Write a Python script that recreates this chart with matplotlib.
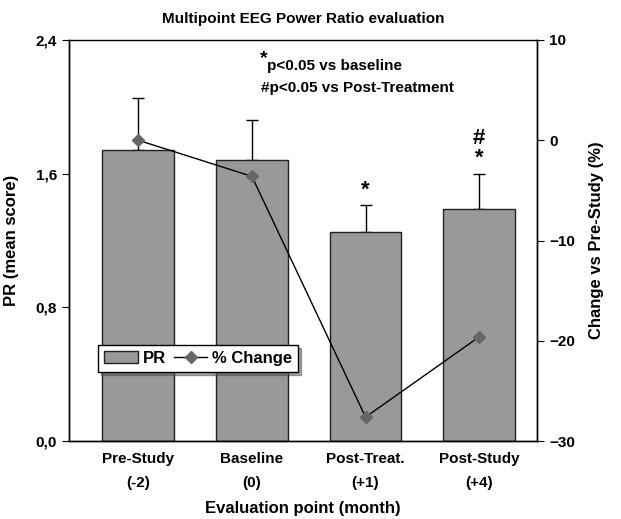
import matplotlib.pyplot as plt

plt.rcParams['font.family'] = ['Liberation Sans', 'DejaVu Sans']
plt.rcParams['font.weight'] = 'bold'
plt.rcParams['axes.labelweight'] = 'bold'
plt.rcParams['axes.titleweight'] = 'bold'

categories = ['Pre-Study\n(-2)', 'Baseline\n(0)', 'Post-Treat.\n(+1)', 'Post-Study\n(+4)']
pr_mean = [1.74, 1.68, 1.25, 1.39]
pr_err = [0.31, 0.24, 0.16, 0.21]
pct_change = [0.0, -3.6, -27.6, -19.6]
pr_ticks = [0.0, 0.8, 1.6, 2.4]
pr_ticklabels = ['0,0', '0,8', '1,6', '2,4']
pct_ticks = [10, 0, -10, -20, -30]
marks = ['', '', '*', '#\n*']

x = list(range(len(categories)))

fig = plt.figure(figsize=(6.21, 5.19), dpi=100)
ax = fig.add_axes([0.111, 0.150, 0.754, 0.773])

bars = ax.bar(x, pr_mean, width=0.63, color='#999999', edgecolor='#222222',
              linewidth=1.0, label='PR', zorder=2)
ax.errorbar(x, pr_mean, yerr=[[0] * len(x), pr_err], fmt='none', ecolor='black',
            elinewidth=1.0, capsize=4, capthick=1.0, zorder=1)
ax.set_xlim(-0.61, 3.51)
ax.set_ylim(0, 2.4)
ax.set_yticks(pr_ticks)
ax.set_yticklabels(pr_ticklabels)
ax.set_xticks(x)
ax.set_xticklabels(categories, fontsize=11, linespacing=1.9)
ax.tick_params(axis='x', length=0, pad=8)
ax.tick_params(axis='y', labelsize=11, length=5)
ax.set_ylabel('PR (mean score)', fontsize=12, labelpad=12)
ax.set_xlabel('Evaluation point (month)', fontsize=12, labelpad=8)
ax.set_title('Multipoint EEG Power Ratio evaluation', fontsize=11, pad=12)

for i, m in enumerate(marks):
    if m:
        ax.text(i, pr_mean[i] + pr_err[i] + 0.03, m, ha='center', va='bottom',
                fontsize=16, linespacing=0.9)

ax.text(0.408, 0.953, '*', transform=ax.transAxes, fontsize=14, va='center', ha='left')
ax.text(0.423, 0.935, 'p<0.05 vs baseline', transform=ax.transAxes,
        fontsize=11, va='center', ha='left')
ax.text(0.41, 0.88, '#p<0.05 vs Post-Treatment', transform=ax.transAxes,
        fontsize=11, va='center', ha='left')

ax2 = ax.twinx()
line, = ax2.plot(x, pct_change, color='black', linewidth=1.0, marker='D',
                 markersize=6, markerfacecolor='#666666', markeredgecolor='#666666',
                 label='% Change')
ax2.set_ylim(-30, 10)
ax2.set_yticks(pct_ticks)
ax2.tick_params(axis='y', labelsize=11, length=5)
ax2.set_ylabel('Change vs Pre-Study (%)', fontsize=12, labelpad=10)

for a in (ax, ax2):
    for s in a.spines.values():
        s.set_linewidth(1.0)
ax2.spines['top'].set_visible(False)
ax.spines['top'].set_visible(False)
ax.axhline(2.4, color='black', linewidth=1.0, clip_on=False)

leg = ax.legend([bars, line], ['PR', '% Change'], loc='upper left',
                bbox_to_anchor=(0.045, 0.26), ncol=2, frameon=True, fancybox=False,
                shadow=True, edgecolor='black', fontsize=12, handlelength=2.0,
                columnspacing=0.5, handletextpad=0.3, borderpad=0.35)
leg.get_frame().set_linewidth(1.0)

fig.savefig('out.png', dpi=100)
